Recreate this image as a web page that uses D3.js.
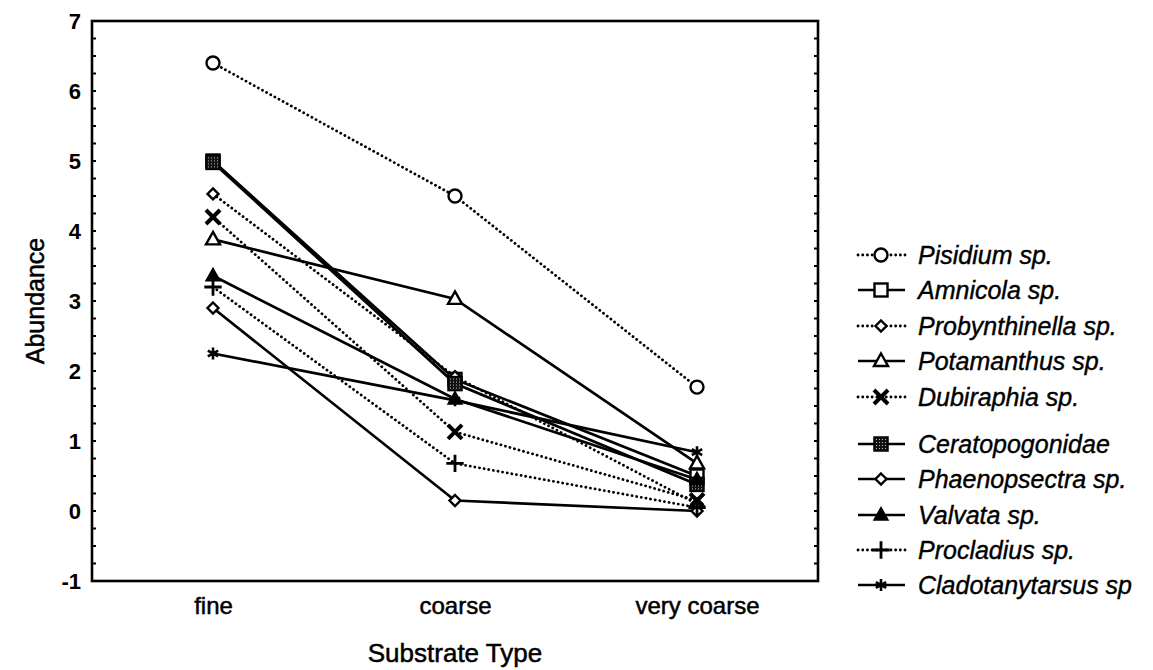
<!DOCTYPE html>
<html>
<head>
<meta charset="utf-8">
<script src="https://cdn.jsdelivr.net/npm/d3@7"></script>
<style>
  html, body { margin: 0; padding: 0; background: #fff; }
  svg { display: block; }
  text { font-family: "Liberation Sans", Arial, sans-serif; fill: #000; }
</style>
</head>
<body>
<svg id="chart" width="1153" height="670"></svg>
<script>
// Substrate categories along the x axis
const substrates = ["fine", "coarse", "very coarse"];

// Taxa, in legend order
const taxa = [
  "Pisidium sp.", "Amnicola sp.", "Probynthinella sp.", "Potamanthus sp.", "Dubiraphia sp.",
  "Ceratopogonidae", "Phaenopsectra sp.", "Valvata sp.", "Procladius sp.", "Cladotanytarsus sp"
];

// Mean abundance per taxon for fine / coarse / very coarse substrate
const pisidium        = [6.40, 4.50, 1.77];
const amnicola        = [5.00, 1.88, 0.50];
const probynthinella  = [4.53, 1.92, 0.10];
const potamanthus     = [3.88, 3.03, 0.68];
const dubiraphia      = [4.20, 1.13, 0.15];
const ceratopogonidae = [4.98, 1.82, 0.38];
const phaenopsectra   = [2.90, 0.15, 0.00];
const valvata         = [3.36, 1.60, 0.45];
const procladius      = [3.20, 0.68, 0.05];
const cladotanytarsus = [2.25, 1.58, 0.84];

// Y axis ticks
const yTicks = [-1, 0, 1, 2, 3, 4, 5, 6, 7];

const seriesValues = [pisidium, amnicola, probynthinella, potamanthus, dubiraphia,
  ceratopogonidae, phaenopsectra, valvata, procladius, cladotanytarsus];
const markerKind = ["circle", "square", "diamond", "triangle", "times",
  "squareFilled", "diamond", "triangleFilled", "plus", "asterisk"];
const dotted = [true, false, true, false, true, false, false, false, true, false];

const svg = d3.select("#chart");
const margin = { left: 92, right: 335, top: 21, bottom: 89 };
const W = 1153, H = 670;
const plotW = W - margin.left - margin.right;
const plotH = H - margin.top - margin.bottom;

const x = d3.scalePoint().domain(substrates).range([0, plotW]).padding(0.5);
const y = d3.scaleLinear().domain([-1, 7]).range([plotH, 0]);

// Speckled fill used by the Ceratopogonidae marker
const defs = svg.append("defs");
const pat = defs.append("pattern").attr("id", "speck")
  .attr("width", 3).attr("height", 3).attr("patternUnits", "userSpaceOnUse");
pat.append("rect").attr("width", 3).attr("height", 3).attr("fill", "#111");
pat.append("rect").attr("x", 1).attr("y", 1).attr("width", 1).attr("height", 1).attr("fill", "#bbb");

const g = svg.append("g").attr("transform", `translate(${margin.left},${margin.top})`);

// Frame
g.append("rect").attr("x", 0).attr("y", 0).attr("width", plotW).attr("height", plotH)
  .attr("fill", "none").attr("stroke", "#000").attr("stroke-width", 2.6);

// Left axis: labels plus inward ticks on both sides
const minor = d3.range(-1, 7.001, 0.25);
const leftAxis = d3.axisLeft(y).tickValues(yTicks).tickSize(0).tickPadding(11)
  .tickFormat(d => (d < 0 ? "-" : "") + Math.abs(d));
const ya = g.append("g").call(leftAxis);
ya.select(".domain").remove();
ya.selectAll("text").attr("font-size", 22).attr("font-family", "Liberation Sans, Arial, sans-serif")
  .attr("font-weight", "bold").attr("fill", "#000");
g.append("g").selectAll("line").data(minor).join("line")
  .attr("x1", 0).attr("x2", 4).attr("y1", d => y(d)).attr("y2", d => y(d))
  .attr("stroke", "#000").attr("stroke-width", 2);
g.append("g").selectAll("line").data(minor).join("line")
  .attr("x1", plotW - 4).attr("x2", plotW).attr("y1", d => y(d)).attr("y2", d => y(d))
  .attr("stroke", "#000").attr("stroke-width", 2);

// Bottom axis labels
const bottomAxis = d3.axisBottom(x).tickSize(0).tickPadding(16);
const xa = g.append("g").attr("transform", `translate(0,${plotH})`).call(bottomAxis);
xa.select(".domain").remove();
xa.selectAll("text").attr("font-size", 24).attr("font-family", "Liberation Sans, Arial, sans-serif")
  .attr("fill", "#000").attr("stroke", "#000").attr("stroke-width", 0.5);

// Axis titles
svg.append("text").attr("x", 455).attr("y", 662).attr("text-anchor", "middle")
  .attr("font-size", 26).attr("stroke", "#000").attr("stroke-width", 0.5).text("Substrate Type");
svg.append("text").attr("transform", "translate(44,301) rotate(-90)").attr("text-anchor", "middle")
  .attr("font-size", 25).attr("stroke", "#000").attr("stroke-width", 0.5).text("Abundance");

// Marker drawing
function drawMarker(sel, kind) {
  const s = d3.symbol();
  switch (kind) {
    case "circle":
      sel.append("circle").attr("r", 6.5).attr("fill", "#fff").attr("stroke", "#000").attr("stroke-width", 2.4); break;
    case "square":
      sel.append("rect").attr("x", -6.5).attr("y", -6.5).attr("width", 13).attr("height", 13)
        .attr("fill", "#fff").attr("stroke", "#000").attr("stroke-width", 2.4); break;
    case "squareFilled":
      sel.append("rect").attr("x", -7).attr("y", -7).attr("width", 14).attr("height", 14)
        .attr("fill", "url(#speck)").attr("stroke", "#000").attr("stroke-width", 1.5); break;
    case "diamond":
      sel.append("path").attr("d", "M0,-5.5L5.5,0L0,5.5L-5.5,0Z")
        .attr("fill", "#fff").attr("stroke", "#000").attr("stroke-width", 2.4); break;
    case "triangle":
      sel.append("path").attr("d", "M0,-7.5L7,5L-7,5Z")
        .attr("fill", "#fff").attr("stroke", "#000").attr("stroke-width", 2.4); break;
    case "triangleFilled":
      sel.append("path").attr("d", "M0,-7.5L7,5L-7,5Z")
        .attr("fill", "#000").attr("stroke", "#000").attr("stroke-width", 1.5); break;
    case "times":
      sel.append("path").attr("d", s.type(d3.symbolTimes).size(130)())
        .attr("fill", "none").attr("stroke", "#000").attr("stroke-width", 4); break;
    case "plus":
      sel.append("path").attr("d", s.type(d3.symbolPlus).size(100)())
        .attr("fill", "none").attr("stroke", "#000").attr("stroke-width", 2.8); break;
    case "asterisk":
      sel.append("path").attr("d", s.type(d3.symbolAsterisk).size(100)())
        .attr("fill", "none").attr("stroke", "#000").attr("stroke-width", 2.6); break;
  }
}

function styleLine(sel, isDotted) {
  sel.attr("fill", "none").attr("stroke", "#000")
    .attr("stroke-width", isDotted ? 2.8 : 2.7)
    .attr("stroke-linecap", isDotted ? "round" : "butt")
    .attr("stroke-dasharray", isDotted ? "0.1,4.6" : null);
}

const line = d3.line().x((d, i) => x(substrates[i])).y(d => y(d));

// Series lines
taxa.forEach((t, k) => {
  g.append("path").datum(seriesValues[k]).attr("d", line).call(styleLine, dotted[k]);
});
// Series markers, drawn on top of all lines
taxa.forEach((t, k) => {
  seriesValues[k].forEach((v, i) => {
    const m = g.append("g").attr("transform", `translate(${x(substrates[i])},${y(v)})`);
    drawMarker(m, markerKind[k]);
  });
});

// Legend
const legendY = [255, 290, 326, 361, 397, 444, 479, 515, 550, 585];
const lg = svg.append("g");
taxa.forEach((t, k) => {
  const row = lg.append("g").attr("transform", `translate(0,${legendY[k]})`);
  row.append("line").attr("x1", 858).attr("x2", 905).attr("y1", 0).attr("y2", 0).call(styleLine, dotted[k]);
  const m = row.append("g").attr("transform", "translate(881,0)");
  drawMarker(m, markerKind[k]);
  row.append("text").attr("x", 918).attr("y", 0).attr("dy", "0.35em")
    .attr("font-size", 25).attr("font-style", "italic")
    .attr("stroke", "#000").attr("stroke-width", 0.4).text(t);
});
</script>
</body>
</html>
